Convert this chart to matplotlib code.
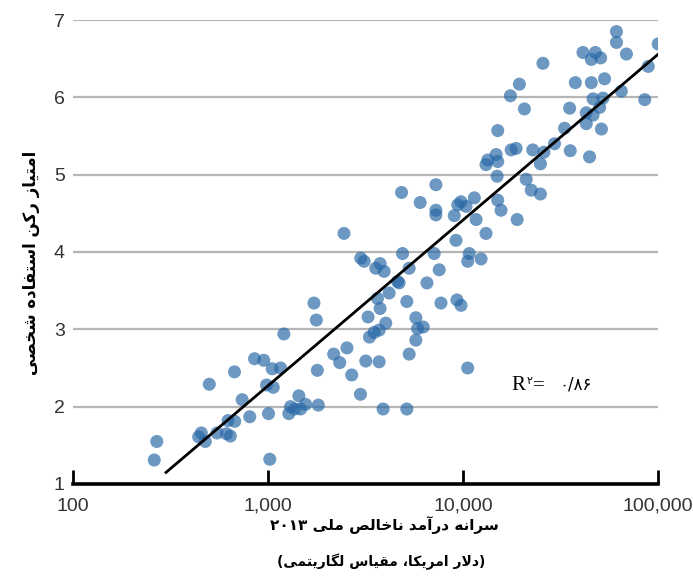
import re
import matplotlib
matplotlib.use("Agg")
import matplotlib.pyplot as plt
from matplotlib.ticker import FixedLocator, FixedFormatter, NullLocator

# GNI per capita 2013 (US$, log scale) against personal usage pillar score
gni = [269, 261, 500, 673, 853, 951, 1051, 1160, 983, 1064, 737, 806, 1006, 1021,
       624, 675, 548, 612, 641, 455, 441, 477, 1206, 1720, 1770, 1790, 1440, 1305,
       1279, 1373, 1469, 1560, 1811, 2172, 2333, 2541, 2687, 2979, 3172, 3714, 3893,
       2990, 3110, 3570, 3757, 3939, 3641, 3757, 3260, 4018, 3714, 3500, 3314, 4180,
       4617, 2453, 4898, 5296, 4703, 6531, 7551, 7119, 10770, 10570, 12380, 5152,
       7709, 9311, 9770, 5731, 5851, 6252, 5731, 5296, 10570, 5152, 61230, 61230,
       100200, 68870, 41230, 47730, 45500, 50800, 25700, 89130, 37670, 45500, 53210,
       19460, 17500, 64860, 46450, 52240, 85500, 50200, 20650, 35220, 42870, 46450,
       42870, 51280, 33190, 15070, 29450, 17660, 18720, 22800, 26000, 35480, 44570,
       14790, 13400, 13120, 15070, 24950, 14960, 21090, 22380, 24950, 7261, 4842,
       6030, 9770, 9397, 11430, 10360, 15070, 15670, 7261, 7261, 9020, 11670, 18950,
       13120, 9204]
score = [1.55, 1.31, 2.29, 2.45, 2.62, 2.60, 2.49, 2.50, 2.28, 2.25, 2.09, 1.87, 1.91,
         1.32, 1.82, 1.81, 1.66, 1.65, 1.62, 1.66, 1.61, 1.55, 2.94, 3.34, 3.12, 2.47,
         2.14, 2.00, 1.91, 1.97, 1.97, 2.03, 2.02, 2.68, 2.57, 2.76, 2.41, 2.16, 2.59,
         2.58, 1.97, 3.92, 3.88, 3.79, 3.85, 3.75, 3.40, 3.27, 3.16, 3.08, 2.99, 2.96,
         2.90, 3.47, 3.62, 4.24, 3.98, 3.79, 3.60, 3.60, 3.77, 3.98, 3.98, 3.88, 3.91,
         3.36, 3.34, 3.38, 3.31, 3.15, 3.01, 3.03, 2.86, 2.68, 2.50, 1.97, 6.85, 6.71,
         6.69, 6.56, 6.58, 6.58, 6.49, 6.51, 6.44, 6.40, 6.19, 6.19, 6.24, 6.17, 6.02,
         6.08, 5.98, 5.99, 5.97, 5.87, 5.85, 5.86, 5.80, 5.77, 5.66, 5.59, 5.60, 5.57,
         5.40, 5.32, 5.34, 5.32, 5.29, 5.31, 5.23, 5.26, 5.19, 5.13, 5.17, 5.14, 4.98,
         4.94, 4.80, 4.75, 4.87, 4.77, 4.64, 4.65, 4.61, 4.70, 4.59, 4.67, 4.54, 4.54,
         4.48, 4.47, 4.42, 4.42, 4.24, 4.15]

# trend line end points
fit_gni = [300, 106000]
fit_score = [1.15, 6.61]

x_ticks = [100, 1000, 10000, 100000]
x_tick_labels = ["100", "1,000", "10,000", "100,000"]
y_ticks = [1, 2, 3, 4, 5, 6, 7]

x_title = "سرانه درآمد ناخالص ملی ۲۰۱۳"
x_subtitle = "(دلار امریکا، مقیاس لگاریتمی)"
y_title = "امتیاز رکن استفاده شخصی"
r2_text = "۰/۸۶"

# presentation forms: isolated, final[, initial, medial]
FORMS = {
    "\u0627": (0xFE8D, 0xFE8E), "\u0622": (0xFE81, 0xFE82),
    "\u062F": (0xFEA9, 0xFEAA), "\u0631": (0xFEAD, 0xFEAE),
    "\u0632": (0xFEAF, 0xFEB0),
    "\u062A": (0xFE95, 0xFE96, 0xFE97, 0xFE98),
    "\u062E": (0xFEA5, 0xFEA6, 0xFEA7, 0xFEA8),
    "\u0633": (0xFEB1, 0xFEB2, 0xFEB3, 0xFEB4),
    "\u0634": (0xFEB5, 0xFEB6, 0xFEB7, 0xFEB8),
    "\u0635": (0xFEB9, 0xFEBA, 0xFEBB, 0xFEBC),
    "\u0641": (0xFED1, 0xFED2, 0xFED3, 0xFED4),
    "\u0642": (0xFED5, 0xFED6, 0xFED7, 0xFED8),
    "\u06A9": (0xFB8E, 0xFB8F, 0xFB90, 0xFB91),
    "\u06AF": (0xFB92, 0xFB93, 0xFB94, 0xFB95),
    "\u0644": (0xFEDD, 0xFEDE, 0xFEDF, 0xFEE0),
    "\u0645": (0xFEE1, 0xFEE2, 0xFEE3, 0xFEE4),
    "\u0646": (0xFEE5, 0xFEE6, 0xFEE7, 0xFEE8),
    "\u0647": (0xFEE9, 0xFEEA, 0xFEEB, 0xFEEC),
    "\u06CC": (0xFBFC, 0xFBFD, 0xFBFE, 0xFBFF),
}
LAM_ALEF = {"\u0627": (0xFEFB, 0xFEFC), "\u0622": (0xFEF5, 0xFEF6)}


def dual(c):
    return c in FORMS and len(FORMS[c]) == 4


def shape(text):
    """Join Persian letters and put the string in left-to-right drawing order."""
    out = []
    i, n = 0, len(text)
    while i < n:
        c = text[i]
        if c not in FORMS:
            out.append(c)
            i += 1
            continue
        joins_prev = i > 0 and dual(text[i - 1])
        if c == "\u0644" and i + 1 < n and text[i + 1] in LAM_ALEF:
            out.append(chr(LAM_ALEF[text[i + 1]][1 if joins_prev else 0]))
            i += 2
            continue
        f = FORMS[c]
        joins_next = len(f) == 4 and i + 1 < n and text[i + 1] in FORMS
        if joins_prev and joins_next:
            g = f[3]
        elif joins_prev:
            g = f[1]
        elif joins_next:
            g = f[2]
        else:
            g = f[0]
        out.append(chr(g))
        i += 1
    vis = "".join(out)[::-1]
    vis = re.sub(r"[0-9\u06F0-\u06F9]+", lambda m: m.group(0)[::-1], vis)
    return vis.translate(str.maketrans("()", ")("))


W, H = 693, 579
fig = plt.figure(figsize=(W / 100, H / 100), dpi=100)
ax = fig.add_axes([73 / W, 95 / H, 585 / W, 464 / H])

ax.set_xscale("log")
ax.set_xlim(100, 100000)
ax.set_ylim(1, 7)

for y in y_ticks[1:]:
    ax.axhline(y, color="#b5b5b5", lw=1.6, zorder=0)

ax.scatter(gni, score, s=88, color="#2868a6", alpha=0.68, edgecolors="none", zorder=2)
ax.plot(fit_gni, fit_score, color="black", lw=2, zorder=3)

for side in ("top", "right", "left"):
    ax.spines[side].set_visible(False)
ax.spines["bottom"].set_linewidth(2.6)

ax.xaxis.set_major_locator(FixedLocator(x_ticks))
ax.xaxis.set_major_formatter(FixedFormatter(x_tick_labels))
ax.xaxis.set_minor_locator(NullLocator())
ax.set_yticks(y_ticks)
ax.tick_params(axis="x", direction="in", length=10, width=2, pad=10,
               labelsize=14, labelcolor="#333333")
ax.tick_params(axis="y", length=0, pad=6, labelsize=14, labelcolor="#333333")
for lbl in ax.get_xticklabels() + ax.get_yticklabels():
    lbl.set_family("Liberation Sans")

fig.text(384 / W, 1 - 525 / H, shape(x_title), ha="center", va="center",
         fontsize=11, fontweight="bold", family=["DejaVu Sans"])
fig.text(381 / W, 1 - 562 / H, shape(x_subtitle), ha="center", va="center",
         fontsize=10, fontweight="bold", family=["DejaVu Sans"])
fig.text(31 / W, 1 - 263 / H, shape(y_title), ha="center", va="center",
         rotation=90, fontsize=12, fontweight="bold", family=["DejaVu Sans"])

# R squared note
ax.text(0.750, 0.2026, "R", transform=ax.transAxes, fontsize=15,
        family="Liberation Serif", va="baseline", ha="left")
ax.text(0.776, 0.2326, "۲", transform=ax.transAxes, fontsize=8,
        family=["DejaVu Sans"], va="top", ha="left")
ax.text(0.786, 0.2026, "=", transform=ax.transAxes, fontsize=15,
        family="Liberation Serif", va="baseline", ha="left")
ax.text(0.832, 0.2026, r2_text, transform=ax.transAxes, fontsize=12,
        family=["DejaVu Sans"], va="baseline", ha="left")

fig.savefig("out.png", dpi=100)
